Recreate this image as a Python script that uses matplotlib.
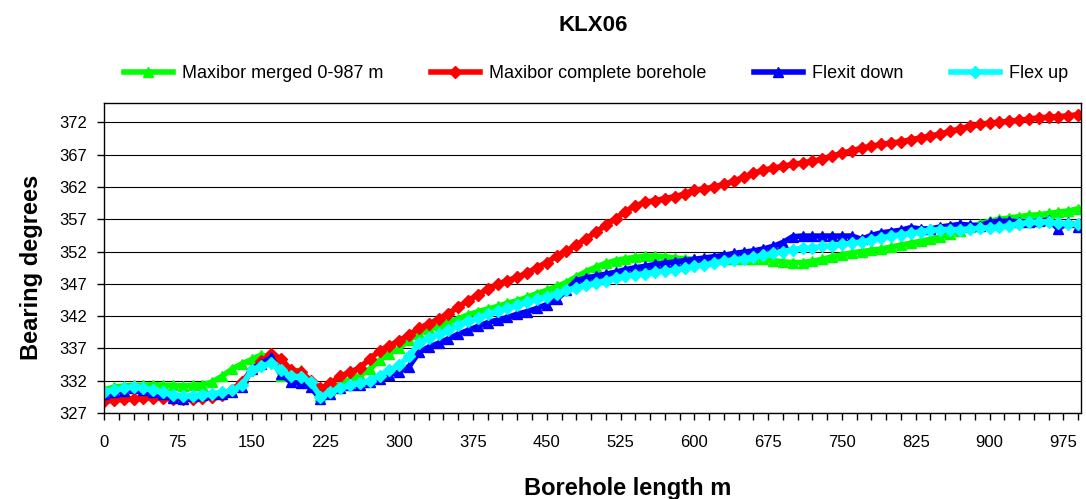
import matplotlib.pyplot as plt
import numpy as np

plt.rcParams["font.family"] = ["Liberation Sans", "DejaVu Sans"]

# borehole length, one reading every 10 m
length_m = np.arange(0, 1000, 10)

maxibor_merged = [
    330.6, 331.0, 331.2, 331.3, 331.3, 331.4, 331.3, 331.3, 331.2, 331.3,
    331.4, 331.8, 332.7, 333.8, 334.6, 335.3, 336.0, 335.5, 332.8, 333.5,
    333.6, 331.6, 329.6, 330.6, 331.5, 332.2, 332.8, 333.8, 335.2, 336.2,
    337.0, 338.3, 339.3, 340.0, 340.6, 341.1, 341.6, 342.2, 342.7, 343.1,
    343.5, 344.0, 344.4, 344.9, 345.5, 346.0, 346.6, 347.2, 348.1, 348.9,
    349.6, 350.2, 350.6, 350.9, 351.1, 351.3, 351.3, 351.2, 351.0, 350.9,
    350.8, 350.8, 350.8, 350.8, 350.8, 350.9, 350.9, 350.8, 350.6, 350.4,
    350.3, 350.3, 350.5, 350.8, 351.2, 351.5, 351.8, 352.0, 352.2, 352.4,
    352.7, 353.0, 353.3, 353.6, 353.9, 354.3, 354.7, 355.2, 355.8, 356.3,
    356.7, 357.0, 357.2, 357.4, 357.6, 357.7, 357.9, 358.1, 358.3, 358.6,
]

maxibor_complete = [
    328.8, 329.0, 329.1, 329.2, 329.3, 329.4, 329.3, 329.2, 329.2, 329.2,
    329.3, 329.5, 329.8, 330.6, 331.8, 333.6, 335.0, 336.2, 335.4, 333.6,
    333.4, 332.0, 330.8, 331.6, 332.7, 333.3, 334.0, 335.4, 336.6, 337.4,
    338.2, 339.1, 340.1, 340.8, 341.5, 342.4, 343.4, 344.4, 345.3, 346.2,
    346.9, 347.5, 348.0, 348.7, 349.5, 350.3, 351.3, 352.1, 353.0, 354.0,
    355.0, 356.1, 357.1, 358.2, 359.1, 359.6, 359.9, 360.2, 360.5, 360.9,
    361.5, 361.7, 362.0, 362.4, 362.9, 363.5, 364.1, 364.6, 364.9, 365.2,
    365.5, 365.7, 366.0, 366.3, 366.8, 367.2, 367.6, 368.0, 368.3, 368.6,
    368.8, 369.0, 369.3, 369.6, 369.9, 370.2, 370.6, 371.0, 371.4, 371.7,
    371.9, 372.0, 372.2, 372.3, 372.5, 372.7, 372.8, 372.9, 373.0, 373.2,
]

flexit_down = [
    330.0, 330.2, 330.4, 330.8, 330.6, 330.2, 330.0, 329.4, 329.2, 329.6,
    329.8, 330.0, 330.0, 330.3, 331.0, 333.8, 334.6, 335.6, 333.0, 331.8,
    331.6, 331.0, 329.2, 330.0, 330.8, 331.3, 331.4, 331.8, 332.2, 332.9,
    333.4, 334.2, 336.4, 337.2, 337.8, 338.5, 339.2, 339.8, 340.4, 341.0,
    341.4, 341.8, 342.3, 342.7, 343.2, 343.8, 344.6, 346.0, 347.5, 347.9,
    348.2, 348.5, 348.8, 349.2, 349.5, 349.7, 350.0, 350.2, 350.4, 350.6,
    350.8, 351.0, 351.2, 351.4, 351.7, 351.9, 352.1, 352.4, 352.8, 353.4,
    354.3, 354.4, 354.4, 354.4, 354.4, 354.4, 354.4, 353.9, 354.5, 354.9,
    355.1, 355.3, 355.7, 355.5, 355.5, 355.8, 356.0, 356.2, 356.1, 356.0,
    356.5, 356.7, 356.7, 356.6, 356.6, 356.7, 356.9, 355.5, 356.6, 355.8,
]

flex_up = [
    330.3, 330.6, 330.8, 331.1, 330.9, 330.5, 330.2, 329.8, 329.6, 329.7,
    329.8, 330.0, 330.2, 330.5, 331.3, 333.6, 334.3, 334.7, 333.6, 332.7,
    332.6, 331.8, 329.5, 330.2, 330.9, 331.4, 331.6, 332.0, 332.8, 333.6,
    334.4, 335.8, 337.8, 338.6, 339.2, 339.8, 340.6, 341.2, 341.7, 342.3,
    342.8, 343.2, 343.7, 344.2, 344.6, 345.0, 345.5, 346.0, 346.4, 346.8,
    347.1, 347.5, 347.9, 348.2, 348.4, 348.6, 348.8, 349.0, 349.1, 349.4,
    349.7, 349.9, 350.2, 350.5, 350.7, 350.9, 351.1, 351.4, 351.7, 352.0,
    352.3, 352.5, 352.6, 352.8, 352.9, 353.1, 353.3, 353.5, 353.8, 354.1,
    354.4, 354.6, 354.8, 355.1, 355.3, 355.4, 355.4, 355.4, 355.5, 355.6,
    355.7, 355.8, 356.0, 356.3, 356.5, 356.6, 356.6, 356.4, 356.3, 356.2,
]

series = [
    ("Maxibor merged 0-987 m", maxibor_merged, "#00ff00", "^"),
    ("Maxibor complete borehole", maxibor_complete, "#ff0000", "D"),
    ("Flexit down", flexit_down, "#0000ff", "^"),
    ("Flex up", flex_up, "#00ffff", "D"),
]

fig = plt.figure(figsize=(10.86, 4.99), dpi=100)
ax = fig.add_axes([0.0958, 0.1723, 0.8996, 0.6213])

for label, values, color, marker in series:
    ms = 7.5 if marker == "^" else 6
    ax.plot(length_m, values, color=color, lw=4, marker=marker, ms=ms,
            markeredgecolor=color, label=label)

ax.set_xlim(0, 993)
ax.set_ylim(327, 375)
ax.set_xticks(np.arange(0, 976, 75))
ax.set_xticks(np.arange(0, 991, 15), minor=True)
ax.set_yticks(np.arange(327, 373, 5))
ax.tick_params(axis="both", which="both", direction="out", length=5,
               width=1, labelsize=12, colors="black")
ax.tick_params(axis="x", pad=11)
ax.tick_params(axis="y", pad=7)
ax.grid(axis="y", color="black", lw=0.8)
ax.set_axisbelow(True)
for sp in ax.spines.values():
    sp.set_color("black")
    sp.set_linewidth(1)

ax.set_xlabel("Borehole length m", fontsize=17, fontweight="bold", labelpad=19)
ax.set_ylabel("Bearing degrees", fontsize=17, fontweight="bold", labelpad=12)
# Excel put the axis titles a bit off the axis centres
ax.xaxis.label.set_x(0.536)
ax.yaxis.label.set_y(0.47)
fig.suptitle("KLX06", fontsize=16, fontweight="bold", x=0.546, y=0.97)

fig.legend(loc="center", bbox_to_anchor=(0.549, 0.852), ncol=4, frameon=False,
           fontsize=13, handlelength=2.7, handletextpad=0.55, columnspacing=2.6)

fig.savefig("out.png", dpi=100)
